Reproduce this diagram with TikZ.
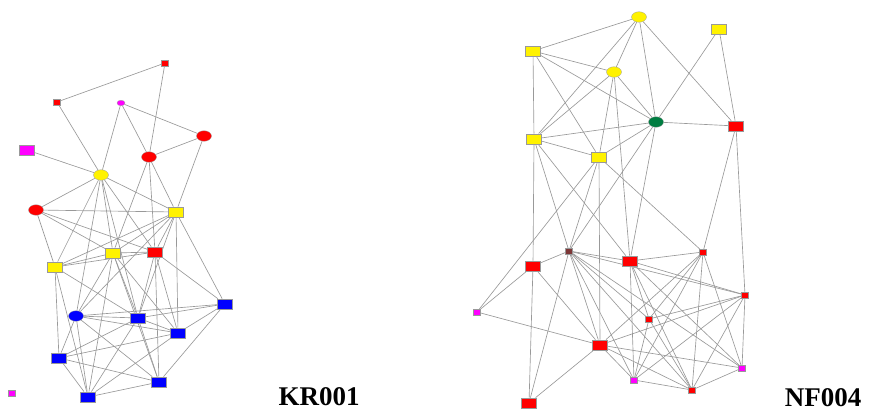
\documentclass[tikz,border=0pt]{standalone}
\usepackage{fontspec}
\setmainfont{Liberation Serif}
\usetikzlibrary{backgrounds,shapes.geometric}
\definecolor{mag}{RGB}{255,0,255}
\definecolor{grn}{RGB}{0,125,65}
\definecolor{brn}{RGB}{125,55,55}

\begin{document}
\begin{tikzpicture}[x=1pt, y=-1pt,
        vtx/.style={draw=gray!80, line width=.3pt, inner sep=0pt},
        sq/.style={vtx, rectangle, minimum width=15pt, minimum height=10.5pt},
        sqs/.style={vtx, rectangle, minimum width=7pt, minimum height=5.5pt},
        el/.style={vtx, ellipse, minimum width=15pt, minimum height=10.5pt},
        els/.style={vtx, ellipse, minimum width=8pt, minimum height=5.5pt},
        edge/.style={draw=gray!80, line width=.65pt},
        tag/.style={font=\fontsize{27}{30}\selectfont\bfseries, anchor=base, inner sep=0pt}]
        % 画布大小(按像素坐标排布)
        \useasboundingbox (0,0) rectangle (869,412);

        % 左图 KR001 的顶点
        \node[sqs, fill=red]    (k1)  at (165,63)  {};
        \node[sqs, fill=red]    (k2)  at (57,102)  {};
        \node[els, fill=mag]    (k3)  at (121,103) {};
        \node[sq,  fill=mag]    (k4)  at (27,150)  {};
        \node[el,  fill=red]    (k5)  at (204,136) {};
        \node[el,  fill=red]    (k6)  at (149,157) {};
        \node[el,  fill=yellow] (k7)  at (101,175) {};
        \node[el,  fill=red]    (k8)  at (36,210)  {};
        \node[sq,  fill=yellow] (k9)  at (176,212) {};
        \node[sq,  fill=yellow] (k10) at (113,253) {};
        \node[sq,  fill=red]    (k11) at (155,252) {};
        \node[sq,  fill=yellow] (k12) at (55,267)  {};
        \node[el,  fill=blue]   (k13) at (76,316)  {};
        \node[sq,  fill=blue]   (k14) at (138,318) {};
        \node[sq,  fill=blue]   (k15) at (225,304) {};
        \node[sq,  fill=blue]   (k16) at (178,333) {};
        \node[sq,  fill=blue]   (k17) at (59,358)  {};
        \node[sq,  fill=blue]   (k18) at (159,382) {};
        \node[sq,  fill=blue]   (k19) at (88,397)  {};
        \node[sqs, fill=mag]    (k20) at (12,393)  {};

        % 右图 NF004 的顶点
        \node[el,  fill=yellow] (n1)  at (639,17)  {};
        \node[sq,  fill=yellow] (n2)  at (719,29)  {};
        \node[sq,  fill=yellow] (n3)  at (533,51)  {};
        \node[el,  fill=yellow] (n4)  at (614,72)  {};
        \node[el,  fill=grn]    (n5)  at (656,122) {};
        \node[sq,  fill=red]    (n6)  at (736,126) {};
        \node[sq,  fill=yellow] (n7)  at (534,139) {};
        \node[sq,  fill=yellow] (n8)  at (599,157) {};
        \node[sqs, fill=brn]    (n9)  at (569,251) {};
        \node[sq,  fill=red]    (n10) at (630,261) {};
        \node[sqs, fill=red]    (n11) at (703,252) {};
        \node[sq,  fill=red]    (n12) at (533,266) {};
        \node[sqs, fill=mag]    (n13) at (477,312) {};
        \node[sqs, fill=red]    (n14) at (745,295) {};
        \node[sqs, fill=red]    (n15) at (649,319) {};
        \node[sq,  fill=red]    (n16) at (600,345) {};
        \node[sqs, fill=mag]    (n17) at (634,380) {};
        \node[sqs, fill=mag]    (n18) at (742,368) {};
        \node[sqs, fill=red]    (n19) at (692,390) {};
        \node[sq,  fill=red]    (n20) at (529,403) {};

        % 边放在背景层,压在顶点下面
        \begin{scope}[on background layer]
            \foreach \a/\b in {k1/k2, k1/k6, k2/k7, k3/k7, k3/k6, k3/k5, k5/k6, k5/k9,
                k4/k7, k7/k9, k7/k8, k7/k12, k7/k13, k7/k10, k7/k14, k7/k11,
                k6/k10, k6/k11, k6/k9, k8/k9, k8/k12, k8/k11, k8/k10,
                k9/k12, k9/k10, k9/k11, k9/k15, k9/k16, k9/k14, k9/k13,
                k10/k12, k10/k11, k10/k13, k10/k14, k10/k18, k10/k16, k10/k19,
                k11/k12, k11/k14, k11/k16, k11/k15, k11/k18, k12/k17, k12/k19, k12/k14,
                k13/k14, k13/k15, k13/k16, k13/k17, k13/k19, k13/k18,
                k14/k16, k14/k15, k14/k17, k14/k19, k14/k18, k15/k16, k15/k18,
                k16/k17, k16/k19, k17/k19, k17/k18, k18/k19}
                \draw[edge] (\a) -- (\b);
            \foreach \a/\b in {n1/n3, n1/n4, n1/n5, n1/n6, n1/n7, n2/n5, n2/n6,
                n3/n4, n3/n5, n3/n7, n3/n8, n4/n7, n4/n5, n4/n8, n4/n10,
                n5/n6, n5/n7, n5/n8, n5/n9, n5/n10, n6/n11, n6/n14,
                n7/n8, n7/n12, n7/n9, n7/n10, n8/n9, n8/n16, n8/n13, n8/n11,
                n9/n12, n9/n10, n9/n20, n9/n16, n9/n17, n9/n19, n9/n18, n9/n15, n9/n14,
                n12/n20, n12/n16, n12/n13, n13/n16,
                n10/n11, n10/n14, n10/n17, n10/n19, n10/n18, n10/n15,
                n11/n16, n11/n17, n11/n19, n11/n18, n11/n15,
                n14/n16, n14/n15, n14/n17, n14/n19, n14/n18, n15/n17, n15/n19,
                n16/n17, n16/n19, n16/n18, n16/n20, n17/n19, n18/n19}
                \draw[edge] (\a) -- (\b);
        \end{scope}

        % 两个图的编号
        \node[tag] (kr) at (319,405) {KR001};
        \node[tag] (nf) at (823,406) {NF004};
    \end{tikzpicture}
\end{document}
